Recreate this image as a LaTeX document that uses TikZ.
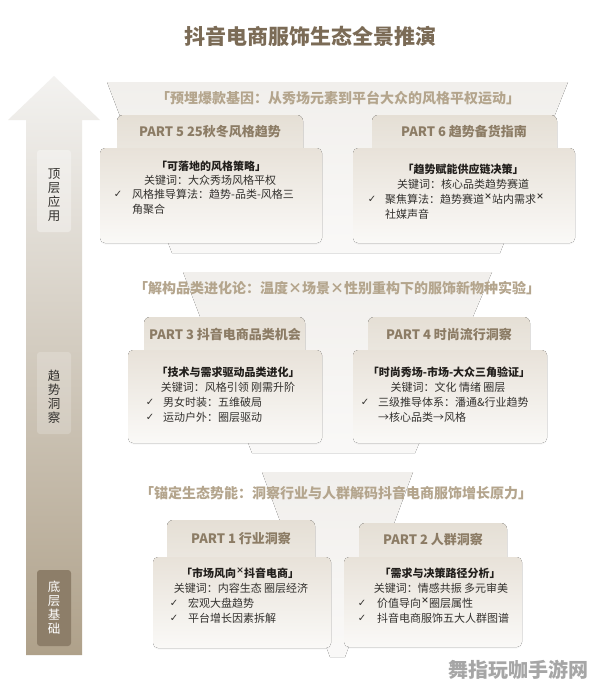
\documentclass[tikz,border=0pt]{standalone}
\usepackage{fontspec}
\setmainfont{Noto Sans CJK SC}
\newfontfamily\symfont{DejaVu Sans}
\usetikzlibrary{shadows}
\definecolor{titlebrown}{HTML}{7B6B56}
\definecolor{subtan}{HTML}{B4A58D}
\definecolor{tabtan}{HTML}{8C7C65}
\definecolor{bandgray}{HTML}{F1EFEC}
\definecolor{tabtop}{HTML}{E5DFD5}
\definecolor{tabbot}{HTML}{ECE8E1}
\definecolor{cardtop}{HTML}{E8E2D9}
\definecolor{cardbot}{HTML}{FAF9F7}
\definecolor{ink}{HTML}{33312E}
\definecolor{inkdark}{HTML}{221F1C}
\definecolor{arrowtop}{HTML}{F3F2F0}
\definecolor{arrowmid}{HTML}{D6CFC3}
\definecolor{arrowbot}{HTML}{AFA18A}
\definecolor{basebox}{HTML}{8D7E69}
\newcommand\crossup{\raisebox{.3em}{\fontsize{8}{8}\selectfont\bfseries ×}}
\begin{document}
\begin{tikzpicture}[x=1pt,y=-1pt,
    band/.style={top color=bandgray, bottom color=bandgray!40, draw=none},
    tabbox/.style={top color=tabtop, bottom color=tabbot, rounded corners=6pt},
    cardbox/.style={top color=cardtop, bottom color=cardbot, rounded corners=5pt,
      drop shadow={opacity=.06, shadow xshift=0pt, shadow yshift=-1.5pt}},
    tabtxt/.style={font=\fontsize{13}{15}\selectfont\bfseries, text=tabtan},
    subtxt/.style={font=\fontsize{14}{16}\selectfont\bfseries, text=subtan},
    headtxt/.style={font=\fontsize{11}{13}\selectfont\bfseries, text=inkdark, inner sep=0pt},
    cardtxt/.style={font=\fontsize{11}{13}\selectfont, text=ink, inner sep=0pt},
    tick/.style={font=\symfont\fontsize{10}{12}\selectfont, text=ink, inner sep=0pt},
    sidetxt/.style={font=\fontsize{12.5}{14}\selectfont, align=center, text=ink}]
    \fill[white] (0,0) rectangle (596,688);
    \useasboundingbox (0,0) rectangle (596,688);

    % growth arrow on the left
    \shade[top color=arrowtop, middle color=arrowmid, bottom color=arrowbot]
      (26,655) -- (26,120) -- (8,120) -- (54,76) -- (100,120) -- (82,120) -- (82,655) -- cycle;
    \fill[white, opacity=.35, rounded corners=3pt] (37,150) rectangle (71,232);
    \fill[white, opacity=.2, rounded corners=3pt] (37,352) rectangle (71,434);
    \fill[basebox, rounded corners=3pt] (37,570) rectangle (71,646);
    \node[sidetxt] (top) at (54,195) {顶\\层\\应\\用};
    \node[sidetxt] (mid) at (54,397) {趋\\势\\洞\\察};
    \node[sidetxt, text=white] (base) at (54,608) {底\\层\\基\\础};

    \node[font=\fontsize{21}{24}\selectfont\bfseries, text=titlebrown] (title) at (310,36) {抖音电商服饰生态全景推演};

    % funnels behind the three levels
    \fill[band] (107,82) -- (568,82) -- (500,253) -- (172,253) -- cycle;
    \fill[band] (183,272) -- (492,272) -- (415,453) -- (252,453) -- cycle;
    \fill[band] (262,472) -- (413,472) -- (345,657) -- (330,657) -- cycle;

    \node[subtxt] (sub56) at (338,98) {「预埋爆款基因：从秀场元素到平台大众的风格平权运动」};
    \node[subtxt] (sub34) at (337,288) {「解构品类进化论：温度×场景×性别重构下的服饰新物种实验」};
    \node[subtxt] (sub12) at (336,493) {「锚定生态势能：洞察行业与人群解码抖音电商服饰增长原力」};

    % PART 5
    \fill[tabbox] (117,115) rectangle (303,156);
    \fill[cardbox] (100,148) rectangle (322,243);
    \node[tabtxt] (p5) at (210,132) {PART 5 25秋冬风格趋势};
    \node[headtxt] (p5h) at (211,166) {「可落地的风格策略」};
    \node[cardtxt] (p5k) at (210,180) {关键词：大众秀场风格平权};
    \node[tick] (p5t) at (118,194) {✓};
    \node[cardtxt, anchor=west] (p5a) at (132,194) {风格推导算法：趋势-品类-风格三};
    \node[cardtxt, anchor=west] (p5b) at (132,209) {角聚合};

    % PART 6
    \fill[tabbox] (372,115) rectangle (557,156);
    \fill[cardbox] (353,148) rectangle (575,243);
    \node[tabtxt] (p6) at (464,132) {PART 6 趋势备货指南};
    \node[headtxt] (p6h) at (463,169) {「趋势赋能供应链决策」};
    \node[cardtxt] (p6k) at (463,184) {关键词：核心品类趋势赛道};
    \node[tick] (p6t) at (372,199) {✓};
    \node[cardtxt, anchor=west] (p6a) at (385,199) {聚焦算法：趋势赛道\crossup 站内需求\crossup};
    \node[cardtxt, anchor=west] (p6b) at (385,214) {社媒声音};

    % PART 3
    \fill[tabbox] (144,317) rectangle (305,358);
    \fill[cardbox] (128,350) rectangle (322,443);
    \node[tabtxt] (p3) at (225,334) {PART 3 抖音电商品类机会};
    \node[headtxt] (p3h) at (228,372) {「技术与需求驱动品类进化」};
    \node[cardtxt] (p3k) at (228,387) {关键词：风格引领 刚需升阶};
    \node[tick] (p3t) at (150,402) {✓};
    \node[cardtxt, anchor=west] (p3a) at (163,402) {男女时装：五维破局};
    \node[tick] (p3u) at (150,417) {✓};
    \node[cardtxt, anchor=west] (p3b) at (163,417) {运动户外：圈层驱动};

    % PART 4
    \fill[tabbox] (368,317) rectangle (530,358);
    \fill[cardbox] (353,350) rectangle (547,443);
    \node[tabtxt] (p4) at (449,334) {PART 4 时尚流行洞察};
    \node[headtxt] (p4h) at (449,372) {「时尚秀场-市场-大众三角验证」};
    \node[cardtxt] (p4k) at (448,387) {关键词：文化 情绪 圈层};
    \node[tick] (p4t) at (365,402) {✓};
    \node[cardtxt, anchor=west] (p4a) at (378,402) {三级推导体系：潘通\&行业趋势};
    \node[cardtxt, anchor=west] (p4b) at (378,417) {→核心品类→风格};

    % PART 1
    \fill[tabbox] (167,520) rectangle (315,565);
    \fill[cardbox] (153,557) rectangle (331,648);
    \node[tabtxt] (p1) at (241,538) {PART 1 行业洞察};
    \node[headtxt] (p1h) at (240,573) {「市场风向\crossup 抖音电商」};
    \node[cardtxt] (p1k) at (241,588) {关键词：内容生态 圈层经济};
    \node[tick] (p1t) at (174,603) {✓};
    \node[cardtxt, anchor=west] (p1a) at (188,603) {宏观大盘趋势};
    \node[tick] (p1u) at (174,618) {✓};
    \node[cardtxt, anchor=west] (p1b) at (188,618) {平台增长因素拆解};

    % PART 2
    \fill[tabbox] (359,523) rectangle (507,565);
    \fill[cardbox] (344,557) rectangle (522,647);
    \node[tabtxt] (p2) at (433,539) {PART 2 人群洞察};
    \node[headtxt] (p2h) at (440,573) {「需求与决策路径分析」};
    \node[cardtxt] (p2k) at (441,588) {关键词：情感共振 多元审美};
    \node[tick] (p2t) at (362,603) {✓};
    \node[cardtxt, anchor=west] (p2a) at (377,603) {价值导向\crossup 圈层属性};
    \node[tick] (p2u) at (362,618) {✓};
    \node[cardtxt, anchor=west] (p2b) at (377,618) {抖音电商服饰五大人群图谱};

    \node[font=\fontsize{20}{22}\selectfont\bfseries, text=black!35] (mark) at (518,670) {舞指玩咖手游网};
\end{tikzpicture}
\end{document}
